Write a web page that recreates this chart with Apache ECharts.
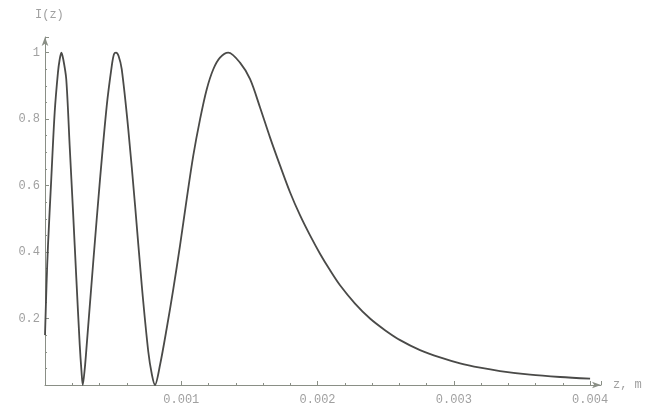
<!DOCTYPE html>
<html>
<head>
<meta charset="utf-8">
<script src="https://cdn.jsdelivr.net/npm/echarts@6/dist/echarts.min.js"></script>
<style>html,body{margin:0;padding:0;background:#fff}#c{width:656px;height:410px}</style>
</head>
<body>
<div id="c"></div>
<script>
// z in metres (x 1e-3 below), intensity
const zMilli = [0, 0.011, 0.022, 0.046, 0.071, 0.095, 0.108, 0.120, 0.134, 0.156, 0.181, 0.206, 0.230, 0.255, 0.268, 0.277,
  0.292, 0.306, 0.354, 0.404, 0.453, 0.490, 0.506, 0.521, 0.540, 0.563, 0.611, 0.661, 0.710, 0.758, 0.785, 0.807,
  0.844, 0.893, 0.942, 0.991, 1.040, 1.088, 1.138, 1.187, 1.235, 1.284, 1.345,
  1.431, 1.505, 1.578, 1.651, 1.725, 1.798, 1.872, 1.945, 2.018, 2.092, 2.165, 2.275, 2.385, 2.495,
  2.606, 2.752, 2.899, 3.046, 3.193, 3.339, 3.560, 3.780, 4.000];
const intensity = [0.15, 0.30, 0.42, 0.62, 0.82, 0.94, 0.98, 1.0, 0.98, 0.92, 0.72, 0.52, 0.32, 0.12, 0.04, 0,
  0.05, 0.12, 0.37, 0.62, 0.84, 0.96, 0.995, 1.0, 0.99, 0.95, 0.77, 0.54, 0.30, 0.10, 0.03, 0,
  0.06, 0.17, 0.29, 0.42, 0.56, 0.69, 0.80, 0.89, 0.95, 0.985, 1.0,
  0.97, 0.92, 0.835, 0.745, 0.66, 0.58, 0.51, 0.45, 0.395, 0.345, 0.30, 0.245, 0.20, 0.165,
  0.135, 0.105, 0.083, 0.065, 0.052, 0.042, 0.031, 0.024, 0.019];
const xTicks = [0.001, 0.002, 0.003, 0.004];
const yTicks = [0.2, 0.4, 0.6, 0.8, 1];
const xName = 'z, m';
const yName = 'I(z)';

const chart = echarts.init(document.getElementById('c'));
const labelFont = {fontFamily: 'Liberation Mono', fontSize: 12, color: '#a0a0a0'};
const axisCol = '#8a8f86';
chart.setOption({
  animation: false,
  backgroundColor: '#fff',
  grid: {left: 45, right: 55, top: 37, bottom: 25},
  xAxis: {
    type: 'value', min: 0, max: 0.00408, interval: 0.001,
    name: xName, nameLocation: 'end', nameGap: 12,
    nameTextStyle: Object.assign({}, labelFont, {verticalAlign: 'middle', padding: [6, 0, 0, 0]}),
    axisLine: {lineStyle: {color: axisCol, width: 1}, symbol: ['none', 'arrow'], symbolSize: [5, 9]},
    axisTick: {inside: true, length: 4, lineStyle: {color: axisCol}},
    minorTick: {show: true, splitNumber: 5, length: 2, lineStyle: {color: axisCol}},
    splitLine: {show: false},
    axisLabel: Object.assign({}, labelFont, {margin: 9, showMaxLabel: false,
      formatter: v => xTicks.some(t => Math.abs(t - v) < 1e-9) ? v.toFixed(3) : ''})
  },
  yAxis: {
    type: 'value', min: 0, max: 1.047, interval: 0.2,
    name: yName, nameLocation: 'end', nameGap: 16,
    nameTextStyle: Object.assign({}, labelFont, {align: 'left', padding: [0, 0, 0, -10]}),
    axisLine: {lineStyle: {color: axisCol, width: 1}, symbol: ['none', 'arrow'], symbolSize: [5, 9]},
    axisTick: {inside: true, length: 4, lineStyle: {color: axisCol}},
    minorTick: {show: true, splitNumber: 4, length: 2, lineStyle: {color: axisCol}},
    splitLine: {show: false},
    axisLabel: Object.assign({}, labelFont, {margin: 5, showMaxLabel: false,
      formatter: v => yTicks.some(t => Math.abs(t - v) < 1e-9) ? String(Number(v.toFixed(1))) : ''})
  },
  series: [{
    type: 'line', smooth: 0.3, showSymbol: false,
    lineStyle: {color: '#4a4a48', width: 1.8},
    data: zMilli.map((z, i) => [z / 1000, intensity[i]])
  }]
});
</script>
</body>
</html>
